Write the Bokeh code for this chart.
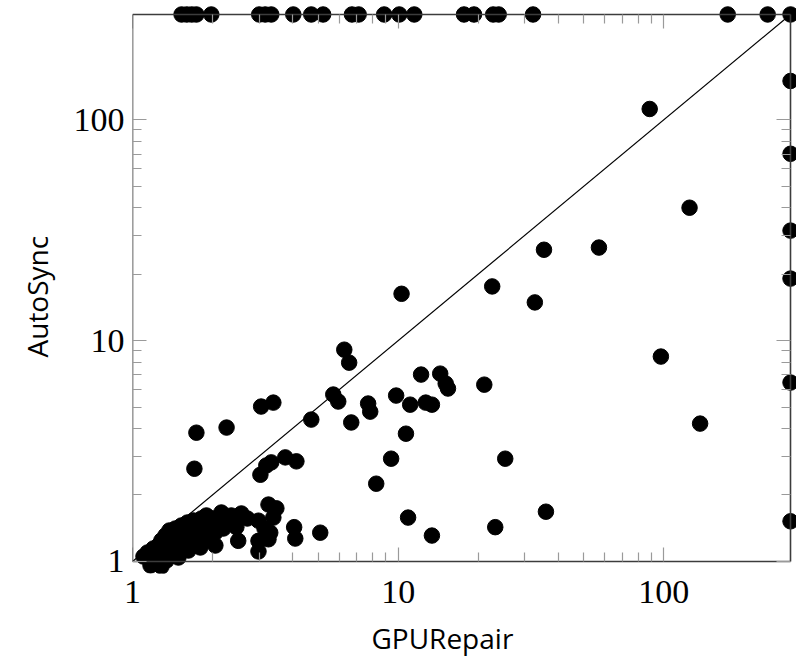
from bokeh.plotting import figure
from bokeh.models import Range1d, LogAxis, FixedTicker, ColumnDataSource, Title
from bokeh.embed import file_html
from bokeh.resources import INLINE

# ---------------- data ----------------
TIMEOUT = 300  # timeout value (edge of the plot)

# instances solved by both tools
gpurepair = [88.5, 125, 57.0, 35.4, 22.6, 32.7, 10.3, 97.5, 137, 36.0,
             23.2, 13.4, 10.9, 25.3, 21.1, 14.4, 15.1, 15.4, 12.2, 12.7,
             13.4, 11.1, 9.83, 10.7, 9.41, 8.27, 7.71, 7.85, 6.66, 5.70,
             5.95, 4.71, 6.27, 6.54, 1.74, 1.71, 2.26, 3.05, 3.39, 3.03,
             3.19, 3.33, 3.76, 4.14, 3.25, 3.48, 3.39, 2.98, 3.14, 3.30,
             2.98, 3.25, 2.98, 2.46, 2.50, 4.06, 4.10, 5.09,
             1.10, 1.139, 1.169, 1.199, 1.22, 1.252, 1.263, 1.285, 1.308, 1.331,
             1.342, 1.366, 1.377, 1.402, 1.426, 1.451, 1.476, 1.502, 1.528, 1.555,
             1.582, 1.610, 1.638, 1.667, 1.696, 1.725, 1.771, 1.801, 1.817, 1.849,
             1.898, 1.931, 1.965, 2.016, 2.051, 2.105, 2.161, 2.198, 2.256, 2.356,
             2.439, 2.570, 2.706, 1.199, 1.285, 1.169, 1.489, 1.624, 2.051]
autosync = [112, 40.0, 26.4, 25.8, 17.6, 14.9, 16.3, 8.47, 4.21, 1.68,
            1.43, 1.31, 1.58, 2.92, 6.32, 7.09, 6.39, 6.07, 7.02, 5.24,
            5.13, 5.13, 5.64, 3.79, 2.92, 2.25, 5.19, 4.77, 4.26, 5.70,
            5.30, 4.39, 9.10, 7.95, 3.83, 2.63, 4.04, 5.03, 5.24, 2.47,
            2.72, 2.81, 2.96, 2.84, 1.81, 1.74, 1.58, 1.53, 1.41, 1.35,
            1.24, 1.26, 1.11, 1.43, 1.24, 1.43, 1.27, 1.35,
            1.053, 1.098, 1.010, 1.145, 0.979, 1.181, 1.064, 1.245, 1.110, 1.311,
            1.010, 1.181, 1.381, 1.098, 1.245, 1.410, 1.145, 1.311, 1.455, 1.181,
            1.353, 1.501, 1.219, 1.410, 1.533, 1.271, 1.455, 1.157, 1.565, 1.353,
            1.615, 1.245, 1.455, 1.565, 1.353, 1.501, 1.666, 1.410, 1.533, 1.615,
            1.501, 1.649, 1.565, 1.064, 0.949, 0.959, 1.042, 1.121, 1.181]

# AutoSync timed out (plotted on the top edge): GPURepair times
autosync_timeout_gpurepair = [1.53, 1.60, 1.67, 1.74, 1.98, 3.00, 3.16, 3.33, 4.03, 4.71,
                              5.22, 6.70, 7.10, 8.86, 10.1, 11.5, 17.7, 19.3, 22.8, 23.9,
                              32.2, 174, 246, 300]
# GPURepair timed out (plotted on the right edge): AutoSync times
gpurepair_timeout_autosync = [150, 70.2, 31.5, 19.1, 6.46, 1.52]

major_ticks = [1, 10, 100]
tick_labels = ["1", "10", "100"]
minor_ticks = [2, 3, 4, 5, 6, 7, 8, 9, 20, 30, 40, 50, 60, 70, 80, 90]

x_label = "GPURepair"
y_label = "AutoSync"

# ---------------- build ----------------
all_x = gpurepair + autosync_timeout_gpurepair + [TIMEOUT] * len(gpurepair_timeout_autosync)
all_y = autosync + [TIMEOUT] * len(autosync_timeout_gpurepair) + gpurepair_timeout_autosync
src = ColumnDataSource(dict(x=all_x, y=all_y))

X_END = TIMEOUT * 1.053
Y_START = 0.882
Y_END = TIMEOUT * 1.157

p = figure(width=796, height=670, x_axis_type="log", y_axis_type="log",
           x_range=Range1d(1, X_END), y_range=Range1d(Y_START, Y_END),
           output_backend="svg", toolbar_location=None,
           min_border_left=128, min_border_right=0, min_border_top=0,
           min_border_bottom=97)
p.outline_line_color = None
p.grid.visible = False
p.background_fill_color = "white"
p.border_fill_color = "white"

overrides = {t: l for t, l in zip(major_ticks, tick_labels)}


def style_frame_axis(ax, loc):
    ax.fixed_location = loc
    ax.bounds = (1, TIMEOUT)
    ax.ticker = FixedTicker(ticks=major_ticks, minor_ticks=minor_ticks)
    ax.axis_line_color = "#3c3c3c"
    ax.axis_line_width = 1.6
    ax.major_tick_in = 14
    ax.major_tick_out = 0
    ax.minor_tick_in = 9
    ax.minor_tick_out = 0
    ax.major_tick_line_color = "#9a9a9a"
    ax.minor_tick_line_color = "#9a9a9a"
    ax.major_tick_line_width = 1.2
    ax.minor_tick_line_width = 1.2
    ax.major_label_text_color = None
    ax.major_label_text_font_size = "1px"


def style_label_axis(ax):
    ax.ticker = FixedTicker(ticks=major_ticks, minor_ticks=[])
    ax.major_label_overrides = overrides
    ax.major_label_text_font = "Liberation Serif"
    ax.major_label_text_font_size = "34px"
    ax.major_label_text_color = "black"
    ax.axis_line_color = None
    ax.major_tick_line_color = None
    ax.minor_tick_line_color = None
    ax.major_tick_in = 0
    ax.major_tick_out = 0


# axes carrying the tick labels
yl = p.yaxis[0]
style_label_axis(yl)
yl.major_label_standoff = 8

xb = p.xaxis[0]
style_label_axis(xb)
xb.major_label_standoff = 7

# frame lines with inward ticks on all four sides
for side, loc in (("left", 1), ("below", 1), ("above", TIMEOUT), ("right", TIMEOUT)):
    ax = LogAxis()
    style_frame_axis(ax, loc)
    p.add_layout(ax, side)

p.line([1, TIMEOUT], [1, TIMEOUT], line_color="black", line_width=1.2)
p.scatter("x", "y", source=src, size=15.5, fill_color="black", line_color="black")

# axis titles
p.add_layout(Title(text=x_label, align="left", offset=239, standoff=22,
                   text_font="Open Sans", text_font_size="28px",
                   text_font_style="normal", text_color="black"), "below")
p.add_layout(Title(text=y_label, align="left", offset=216, standoff=30,
                   text_font="Open Sans", text_font_size="28px",
                   text_font_style="normal", text_color="black"), "left")

open("out.html", "w").write(file_html(p, INLINE))
